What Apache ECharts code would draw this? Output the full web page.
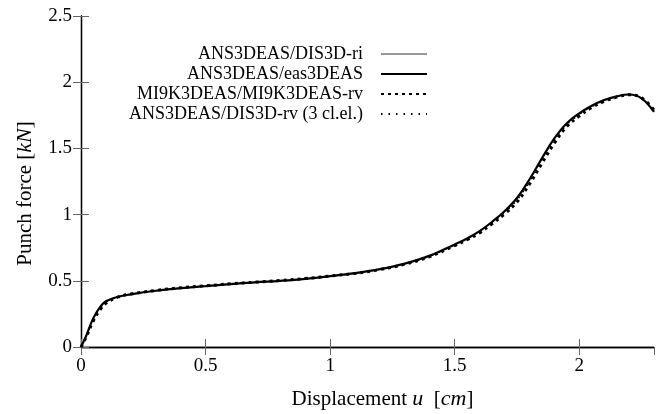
<!DOCTYPE html>
<html>
<head>
<meta charset="utf-8">
<script src="https://cdn.jsdelivr.net/npm/echarts@6/dist/echarts.min.js"></script>
<style>
  html, body { margin: 0; padding: 0; background: #fff; }
  #chart { width: 662px; height: 414px; }
</style>
</head>
<body>
<div id="chart"></div>
<script>
// punch force vs displacement
var seriesNames = [
  'ANS3DEAS/DIS3D-ri',
  'ANS3DEAS/eas3DEAS',
  'MI9K3DEAS/MI9K3DEAS-rv',
  'ANS3DEAS/DIS3D-rv (3 cl.el.)'
];
var disp = [0, 0.02, 0.05, 0.08, 0.1, 0.15, 0.2, 0.3, 0.4, 0.5, 0.6, 0.7, 0.8, 0.9, 1.0,
  1.1, 1.2, 1.3, 1.4, 1.5, 1.55, 1.6, 1.65, 1.7, 1.75, 1.8, 1.85, 1.9, 1.95, 2.0,
  2.05, 2.1, 2.15, 2.2, 2.25, 2.3];
var forceRi = [0, 0.08, 0.22, 0.31, 0.345, 0.38, 0.398, 0.425, 0.445, 0.46, 0.475, 0.488, 0.5, 0.515, 0.535,
  0.558, 0.588, 0.63, 0.69, 0.775, 0.82, 0.875, 0.945, 1.025, 1.125, 1.265, 1.425, 1.575, 1.69, 1.765,
  1.822, 1.865, 1.893, 1.907, 1.878, 1.775];
var forceEas = [0, 0.08, 0.22, 0.31, 0.345, 0.38, 0.398, 0.425, 0.445, 0.46, 0.475, 0.488, 0.5, 0.515, 0.535,
  0.558, 0.588, 0.63, 0.69, 0.775, 0.82, 0.875, 0.945, 1.025, 1.125, 1.265, 1.425, 1.575, 1.69, 1.765,
  1.822, 1.865, 1.893, 1.907, 1.878, 1.775];
var forceRv = [0, 0.07, 0.2, 0.29, 0.33, 0.378, 0.4, 0.427, 0.447, 0.462, 0.477, 0.49, 0.502, 0.517, 0.536,
  0.556, 0.585, 0.625, 0.683, 0.766, 0.81, 0.862, 0.93, 1.005, 1.095, 1.23, 1.387, 1.54, 1.665, 1.745,
  1.808, 1.855, 1.887, 1.905, 1.882, 1.79];
var forceRv3 = [0, 0.075, 0.21, 0.3, 0.34, 0.379, 0.399, 0.426, 0.446, 0.461, 0.476, 0.489, 0.501, 0.516, 0.535,
  0.557, 0.587, 0.628, 0.687, 0.771, 0.815, 0.868, 0.938, 1.015, 1.11, 1.248, 1.406, 1.558, 1.678, 1.755,
  1.815, 1.86, 1.89, 1.906, 1.88, 1.782];
var xTicks = [0, 0.5, 1, 1.5, 2];
var yTicks = [0, 0.5, 1, 1.5, 2, 2.5];

function pairs(ys) {
  return disp.map(function (x, i) { return [x, ys[i]]; });
}

var font = 'Liberation Serif';
var chart = echarts.init(document.getElementById('chart'));

var baseAxis = {
  type: 'value',
  axisLine: { show: true, lineStyle: { color: '#000', width: 1.3 } },
  axisTick: { show: true, inside: true, length: 8, lineStyle: { color: '#666', width: 1 } },
  splitLine: { show: false },
  axisLabel: { color: '#000', fontFamily: font, fontSize: 19 }
};
var nameRich = {
  n: { fontFamily: font, fontSize: 21, color: '#000' },
  i: { fontFamily: font, fontSize: 22, fontStyle: 'italic', color: '#000' }
};

var option = {
  animation: false,
  backgroundColor: '#fff',
  textStyle: { fontFamily: font },
  grid: { left: 81, right: 8, top: 16, bottom: 67, outerBoundsMode: 'none' },
  legend: {
    orient: 'vertical',
    align: 'right',
    right: 229,
    top: 39,
    itemWidth: 46,
    itemHeight: 14,
    itemGap: 0,
    itemStyle: { opacity: 0 },
    textStyle: { fontFamily: font, fontSize: 18, lineHeight: 20, color: '#000', padding: [0, 13, 0, 0] },
    data: seriesNames
  },
  xAxis: [
    Object.assign({}, baseAxis, {
      min: 0, max: 2.3, interval: 0.5,
      name: '{n|Displacement }{i|u}{n|  [}{i|cm}{n|]}',
      nameLocation: 'middle',
      nameGap: 41,
      nameTextStyle: { fontFamily: font, fontSize: 21, padding: [0, 0, 0, 30], rich: nameRich },
      axisLabel: Object.assign({}, baseAxis.axisLabel, {
        margin: 10, showMaxLabel: false,
        formatter: function (v) { return xTicks.indexOf(v) >= 0 ? String(v) : ''; }
      })
    }),
    Object.assign({}, baseAxis, {
      position: 'top', min: 0, max: 2.3, interval: 0.5,
      axisLabel: { show: false }
    })
  ],
  yAxis: [
    Object.assign({}, baseAxis, {
      min: 0, max: 2.5, interval: 0.5,
      name: '{n|Punch force [}{i|kN}{n|]}',
      nameLocation: 'middle',
      nameGap: 45,
      nameTextStyle: { fontFamily: font, fontSize: 21, padding: [0, 24, 0, 0], rich: nameRich },
      axisLabel: Object.assign({}, baseAxis.axisLabel, {
        margin: 9,
        formatter: function (v) { return yTicks.indexOf(v) >= 0 ? String(v) : ''; }
      })
    }),
    Object.assign({}, baseAxis, {
      position: 'right', min: 0, max: 2.5, interval: 0.5,
      axisLabel: { show: false }
    })
  ],
  series: [
    {
      name: seriesNames[0], type: 'line', smooth: 0.4, showSymbol: false, z: 2,
      lineStyle: { color: '#999', width: 1 },
      itemStyle: { color: '#999' },
      data: pairs(forceRi)
    },
    {
      name: seriesNames[1], type: 'line', smooth: 0.4, showSymbol: false, z: 4,
      lineStyle: { color: '#000', width: 2.2 },
      itemStyle: { color: '#000' },
      data: pairs(forceEas)
    },
    {
      name: seriesNames[2], type: 'line', smooth: 0.4, showSymbol: false, z: 5,
      lineStyle: { color: '#000', width: 3, type: [3, 4] },
      itemStyle: { color: '#000' },
      data: pairs(forceRv)
    },
    {
      name: seriesNames[3], type: 'line', smooth: 0.4, showSymbol: false, z: 3,
      lineStyle: { color: '#000', width: 1.5, type: [1.5, 6] },
      itemStyle: { color: '#000' },
      data: pairs(forceRv3)
    }
  ]
};
chart.setOption(option);
</script>
</body>
</html>
